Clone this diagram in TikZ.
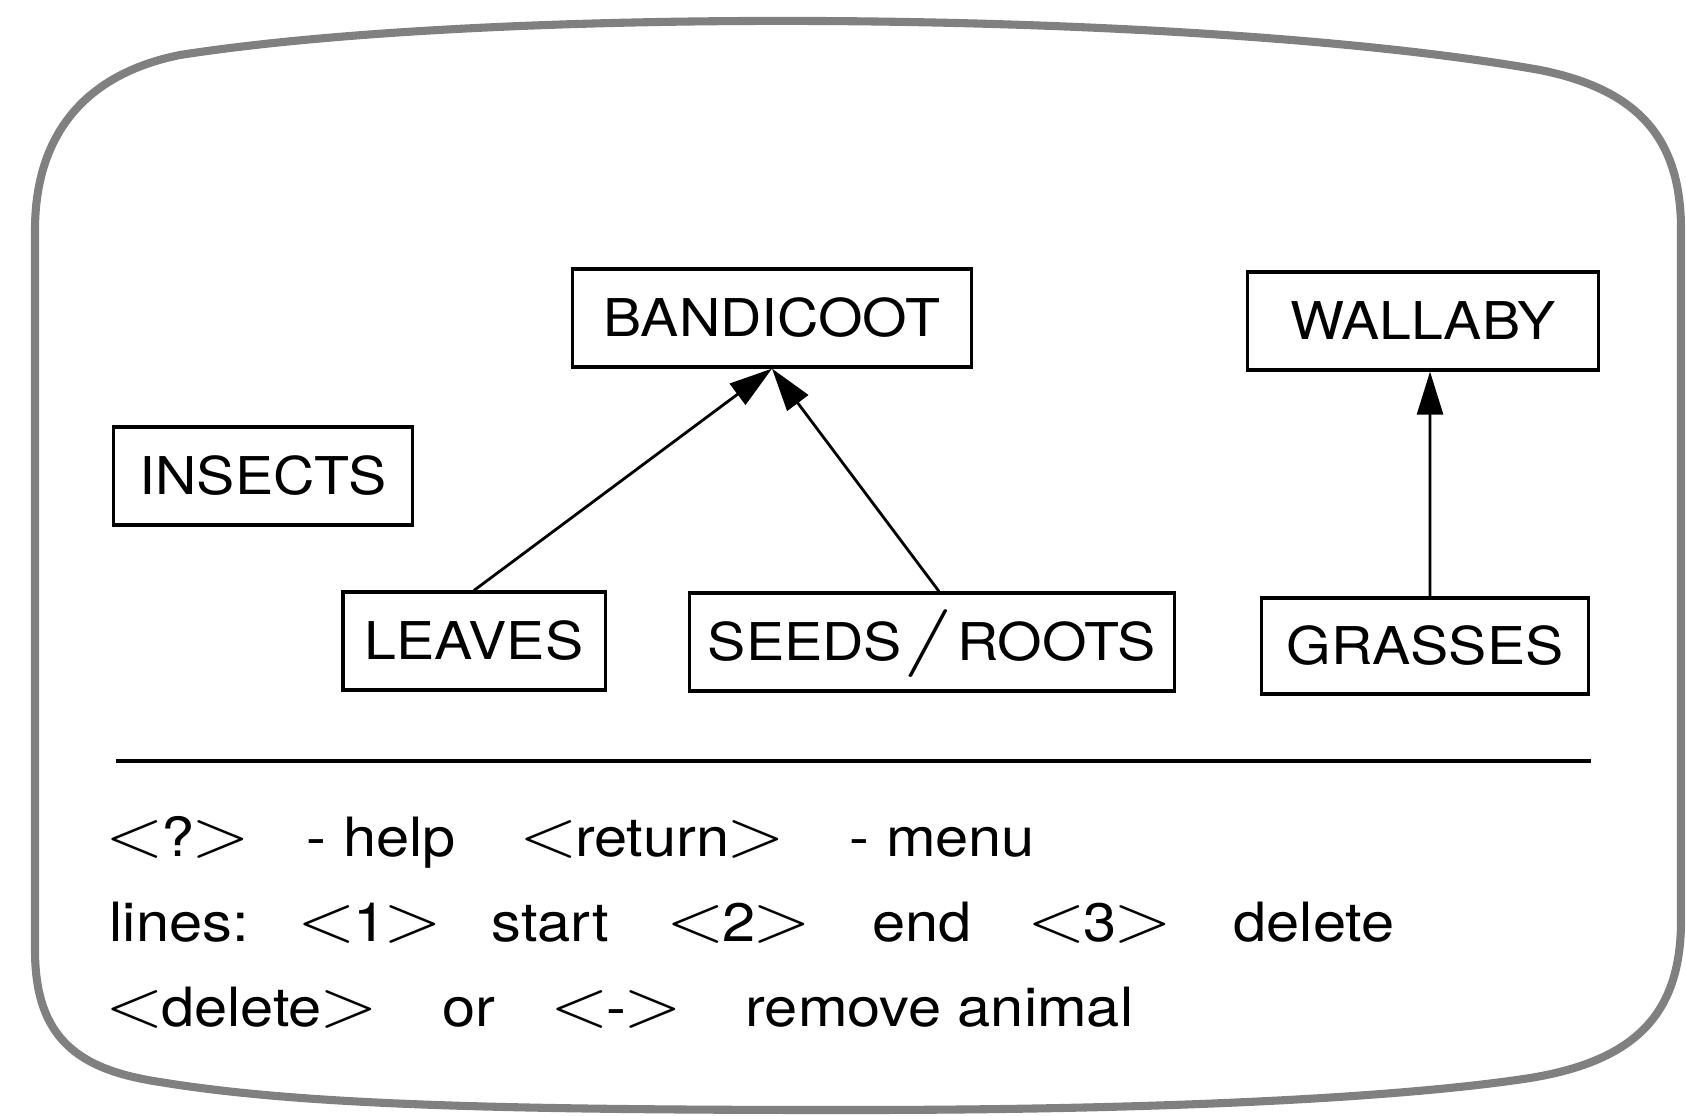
\RequirePackage{fix-cm}
\documentclass[tikz,border=0pt]{standalone}
\usepackage{fontspec}
\setmainfont{TeX Gyre Heros}
\newfontfamily\screenfont[FakeStretch=1.1]{TeX Gyre Heros}
\usetikzlibrary{arrows.meta}
\newcommand{\lkey}{\kern-0.12em\scalebox{1.42}[1.26]{$<$}\kern-0.05em}
\newcommand{\rkey}{\kern-0.05em\scalebox{1.42}[1.26]{$>$}}
\newcommand{\tallslash}{\kern0.5pt\scalebox{1.95}[1.3]{$/$}\kern1pt}
\tikzset{
  animal/.style={draw, line width=0.9pt, minimum height=0.98cm, inner sep=0pt,
    text height=10.6pt, text depth=0pt, font=\screenfont\fontsize{14.8}{18}\selectfont},
  feeds/.style={-{Triangle[length=4.3mm,width=2.6mm]}, line width=0.8pt},
  keytext/.style={anchor=base west, inner sep=0pt, font=\screenfont\fontsize{15.4}{19}\selectfont},
}
\begin{document}
\begin{tikzpicture}[x=0.01cm, y=-0.01cm]
  \useasboundingbox (0,0) rectangle (1686,1115);
  % screen
  \draw[line width=2.3pt, black!50] (35,230) -- (35,950)
    .. controls (35,1040) and (80,1070) .. (160,1082)
    .. controls (300,1105) and (500,1110) .. (850,1110)
    .. controls (1200,1110) and (1420,1095) .. (1530,1078)
    .. controls (1640,1060) and (1681,1010) .. (1681,920) -- (1681,230)
    .. controls (1681,140) and (1640,90) .. (1540,70)
    .. controls (1200,10) and (500,5) .. (180,55)
    .. controls (80,75) and (35,140) .. (35,230) -- cycle;
  % animals and food
  \node[animal, minimum width=3.99cm] (bandicoot) at (772,318) {BANDICOOT};
  \node[animal, minimum width=3.51cm] (wallaby) at (1423,321) {WALLABY};
  \node[animal, minimum width=2.99cm] (insects) at (263,476) {INSECTS};
  \node[animal, minimum width=2.62cm] (leaves) at (474,641) {LEAVES};
  \node[animal, minimum width=4.85cm] (seeds) at (932,642) {SEEDS\tallslash ROOTS};
  \node[animal, minimum width=3.27cm, minimum height=0.96cm] (grasses) at (1425,646) {GRASSES};
  \draw[feeds] (leaves.north) -- (bandicoot.south);
  \draw[feeds] ([xshift=0.07cm]seeds.north) -- (bandicoot.south);
  \draw[feeds] ([xshift=0.05cm]grasses.north) -- ([xshift=0.07cm]wallaby.south);
  % menu
  \draw[line width=1.4pt] (116,761) -- (1591,761);
  \foreach \x/\y/\t [count=\n] in {111/856/{\lkey?\rkey}, 306/856/- help,
      525/856/{\lkey return\rkey}, 849/856/- menu,
      109/941/lines:, 303/941/{\lkey1\rkey}, 491/941/start, 672/941/{\lkey2\rkey},
      872/941/end, 1033/941/{\lkey3\rkey}, 1233/941/delete,
      111/1026/{\lkey delete\rkey}, 442/1026/or, 556/1026/{\lkey-\rkey},
      745/1026/remove animal}
    \node[keytext] (key\n) at (\x,\y) {\t};
\end{tikzpicture}
\end{document}
